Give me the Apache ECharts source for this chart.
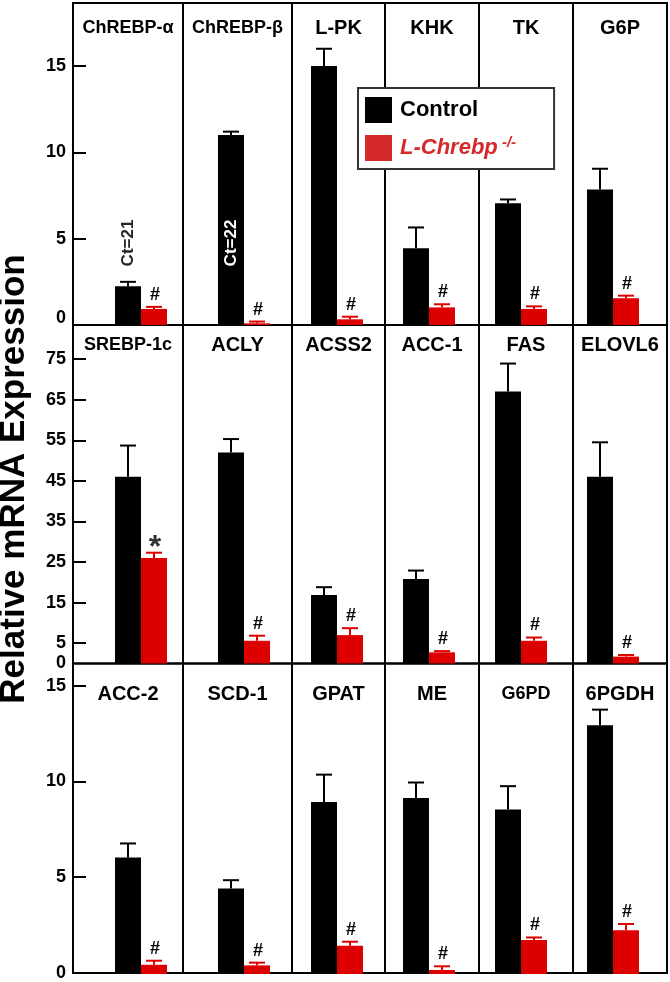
<!DOCTYPE html>
<html><head><meta charset="utf-8">
<script src="https://cdn.jsdelivr.net/npm/echarts@6/dist/echarts.min.js"></script>
<style>html,body{margin:0;padding:0;background:#fff}#c{width:670px;height:982px}</style>
</head><body><div id="c"></div>
<script>
// ---------------- DATA ----------------
const row1Genes = ['ChREBP-α', 'ChREBP-β', 'L-PK', 'KHK', 'TK', 'G6P'];
const row1ControlMean = [2.25, 11.0, 15.0, 4.45, 7.05, 7.85];
const row1ControlErr  = [0.25, 0.2, 1.0, 1.2, 0.22, 1.2];
const row1KoMean = [0.93, 0.1, 0.33, 1.02, 0.93, 1.55];
const row1KoErr  = [0.12, 0.1, 0.15, 0.18, 0.15, 0.15];
const row1Sig = ['#', '#', '#', '#', '#', '#'];
const row1CtText = ['Ct=21', 'Ct=22', '', '', '', ''];
const row1Ticks = [0, 5, 10, 15];

const row2Genes = ['SREBP-1c', 'ACLY', 'ACSS2', 'ACC-1', 'FAS', 'ELOVL6'];
const row2ControlMean = [46, 52, 16.9, 20.8, 67, 46];
const row2ControlErr  = [7.7, 3.3, 1.9, 2.1, 6.9, 8.5];
const row2KoMean = [26, 5.6, 7.0, 2.75, 5.6, 1.7];
const row2KoErr  = [1.3, 1.25, 1.7, 0.3, 0.8, 0.4];
const row2Sig = ['*', '#', '#', '#', '#', '#'];
const row2Ticks = [0, 5, 15, 25, 35, 45, 55, 65, 75];

const row3Genes = ['ACC-2', 'SCD-1', 'GPAT', 'ME', 'G6PD', '6PGDH'];
const row3ControlMean = [6.06, 4.45, 8.95, 9.16, 8.55, 12.94];
const row3ControlErr  = [0.73, 0.43, 1.42, 0.8, 1.22, 0.81];
const row3KoMean = [0.48, 0.45, 1.47, 0.21, 1.77, 2.27];
const row3KoErr  = [0.21, 0.14, 0.21, 0.19, 0.13, 0.33];
const row3Sig = ['#', '#', '#', '#', '#', '#'];
const row3Ticks = [0, 5, 10, 15];

const ctAnchorValue = 4.75;
const yAxisTitle = 'Relative mRNA Expression';
const legendNames = ['Control', 'L-Chrebp'];

// ---------------- LAYOUT / STYLE ----------------
const FF = '"Liberation Sans", Arial, Helvetica, sans-serif';
const RED = '#dc0000';
const LEG_RED = '#d42a2a';
const edges = [73, 183, 292, 385, 479, 573, 667];
const pairCenters = [141, 244, 337, 429, 521, 613];
const rows = [
  {top: 3, bottom: 325, max: 18.65, genes: row1Genes, cm: row1ControlMean, ce: row1ControlErr, km: row1KoMean, ke: row1KoErr, sig: row1Sig, ticks: row1Ticks, titleY: 28.5, ct: row1CtText, raiseZero: true},
  {top: 325, bottom: 663.5, max: 83.4, genes: row2Genes, cm: row2ControlMean, ce: row2ControlErr, km: row2KoMean, ke: row2KoErr, sig: row2Sig, ticks: row2Ticks, titleY: 345.5, ct: null, raiseZero: false},
  {top: 663.5, bottom: 974, max: 16.15, genes: row3Genes, cm: row3ControlMean, ce: row3ControlErr, km: row3KoMean, ke: row3KoErr, sig: row3Sig, ticks: row3Ticks, titleY: 694.5, ct: null, raiseZero: false}
];
const smallTitles = {'G6PD': true};

const grid = [], xAxis = [], yAxis = [], series = [], graphic = [];

rows.forEach((row, r) => {
  const h = row.bottom - row.top;
  const gi = grid.length;
  grid.push({left: edges[0], top: row.top, width: edges[6] - edges[0], height: h, show: true,
    borderColor: '#000', borderWidth: 2, backgroundColor: 'rgba(0,0,0,0)'});
  xAxis.push({gridIndex: gi, type: 'category', data: [''], show: false});
  yAxis.push({gridIndex: gi, type: 'value', min: 0, max: row.max,
    axisLine: {show: true, lineStyle: {color: '#000', width: 2}},
    axisTick: {show: true, inside: true, length: 13, lineStyle: {color: '#000', width: 2},
      customValues: row.ticks.filter(v => v !== 0)},
    axisLabel: {show: true, customValues: row.ticks, margin: 7, color: '#000', fontSize: 18, fontWeight: 'bold', fontFamily: FF,
      formatter: v => (row.raiseZero && v === 0) ? '{z|0}' : String(v),
      rich: {z: {fontSize: 18, fontWeight: 'bold', fontFamily: FF, color: '#000', padding: [0, 0, 14, 0]}}},
    splitLine: {show: false}});
  series.push({type: 'bar', xAxisIndex: gi, yAxisIndex: gi, data: [], silent: true});

  for (let k = 1; k < 6; k++) {
    graphic.push({type: 'line', shape: {x1: edges[k], y1: row.top, x2: edges[k], y2: row.bottom},
      style: {stroke: '#000', lineWidth: 2}, z: 10});
  }

  row.genes.forEach((g, p) => {
    const gidx = grid.length;
    grid.push({left: pairCenters[p] - 26, width: 52, top: row.top, height: h, show: false});
    xAxis.push({gridIndex: gidx, type: 'category', data: ['Control', 'KO'], show: false, boundaryGap: true});
    yAxis.push({gridIndex: gidx, type: 'value', min: 0, max: row.max, show: false});
    series.push({name: 'Control', type: 'bar', xAxisIndex: gidx, yAxisIndex: gidx, barWidth: 26, barGap: '-100%',
      data: [row.cm[p], '-'], itemStyle: {color: '#000'}, silent: true, animation: false});
    series.push({name: 'L-Chrebp', type: 'bar', xAxisIndex: gidx, yAxisIndex: gidx, barWidth: 26, barGap: '-100%',
      data: ['-', row.km[p]], itemStyle: {color: RED}, silent: true, animation: false});
    const errData = [[0, row.cm[p], row.ce[p]], [1, row.km[p], row.ke[p]]];
    const ctText = row.ct ? row.ct[p] : '';
    const sigMark = row.sig[p];
    series.push({type: 'custom', xAxisIndex: gidx, yAxisIndex: gidx, z: 5, silent: true, animation: false,
      data: errData,
      renderItem: (params, api) => {
        const cat = api.value(0), v = api.value(1), e = api.value(2);
        const base = api.coord([cat, v]);
        const top = api.coord([cat, v + e]);
        const col = cat === 0 ? '#000' : RED;
        const children = [
          {type: 'line', shape: {x1: base[0], y1: base[1], x2: top[0], y2: top[1]}, style: {stroke: col, lineWidth: 2}},
          {type: 'line', shape: {x1: top[0] - 8, y1: top[1], x2: top[0] + 8, y2: top[1]}, style: {stroke: col, lineWidth: 2}}
        ];
        if (cat === 1 && sigMark) {
          const isStar = sigMark === '*';
          children.push({type: 'text', x: top[0] + 1, y: top[1] - (isStar ? 5 : 12),
            style: {text: sigMark, fill: isStar ? '#333' : '#000',
              font: 'bold ' + (isStar ? 32 : 18) + 'px ' + FF,
              align: 'center', verticalAlign: 'middle', textAlign: 'center', textVerticalAlign: 'middle'}});
        }
        if (cat === 0 && ctText) {
          const pt = api.coord([cat, ctAnchorValue]);
          const inside = ctAnchorValue < v;
          children.push({type: 'text', x: pt[0], y: pt[1], rotation: Math.PI / 2,
            style: {text: ctText, fill: inside ? '#fff' : '#262626', font: 'bold 17px ' + FF,
              align: 'center', verticalAlign: 'middle', textAlign: 'center', textVerticalAlign: 'middle'}});
        }
        return {type: 'group', children: children};
      }});

    const fs = (g.length > 6 || smallTitles[g]) ? 18 : 20;
    graphic.push({type: 'text', x: (edges[p] + edges[p + 1]) / 2, y: row.titleY, z: 10,
      style: {text: g, fill: '#000', font: 'bold ' + fs + 'px ' + FF,
        align: 'center', verticalAlign: 'middle', textAlign: 'center', textVerticalAlign: 'middle'}});
  });
});

graphic.push({type: 'text', x: 14, y: 479, rotation: Math.PI / 2, z: 10,
  style: {text: yAxisTitle, fill: '#000', font: 'bold 35px ' + FF,
    align: 'center', verticalAlign: 'middle', textAlign: 'center', textVerticalAlign: 'middle'}});

const option = {
  animation: false,
  backgroundColor: '#fff',
  grid, xAxis, yAxis, series, graphic,
  legend: {
    orient: 'vertical', left: 358, top: 88, itemWidth: 27, itemHeight: 26, itemGap: 12,
    padding: [9, 38, 8, 7], borderColor: '#333', borderWidth: 2, backgroundColor: '#fff',
    icon: 'rect', selectedMode: false, z: 20,
    data: [{name: legendNames[0], itemStyle: {color: '#000'}}, {name: legendNames[1], itemStyle: {color: LEG_RED}}],
    formatter: n => n === 'Control' ? '{c|Control}' : '{k|L-Chrebp}{s| -/-}',
    textStyle: {fontFamily: FF, rich: {
      c: {fontSize: 22, fontWeight: 'bold', color: '#000', fontFamily: FF, padding: [0, 0, 0, 3]},
      k: {fontSize: 22, fontWeight: 'bold', fontStyle: 'italic', color: LEG_RED, fontFamily: FF, padding: [0, 0, 0, 3]},
      s: {fontSize: 15, fontWeight: 'bold', fontStyle: 'italic', color: LEG_RED, fontFamily: FF, verticalAlign: 'top', padding: [0, 0, 10, 0]}
    }}
  }
};
const chart = echarts.init(document.getElementById('c'));
chart.setOption(option);
</script></body></html>
